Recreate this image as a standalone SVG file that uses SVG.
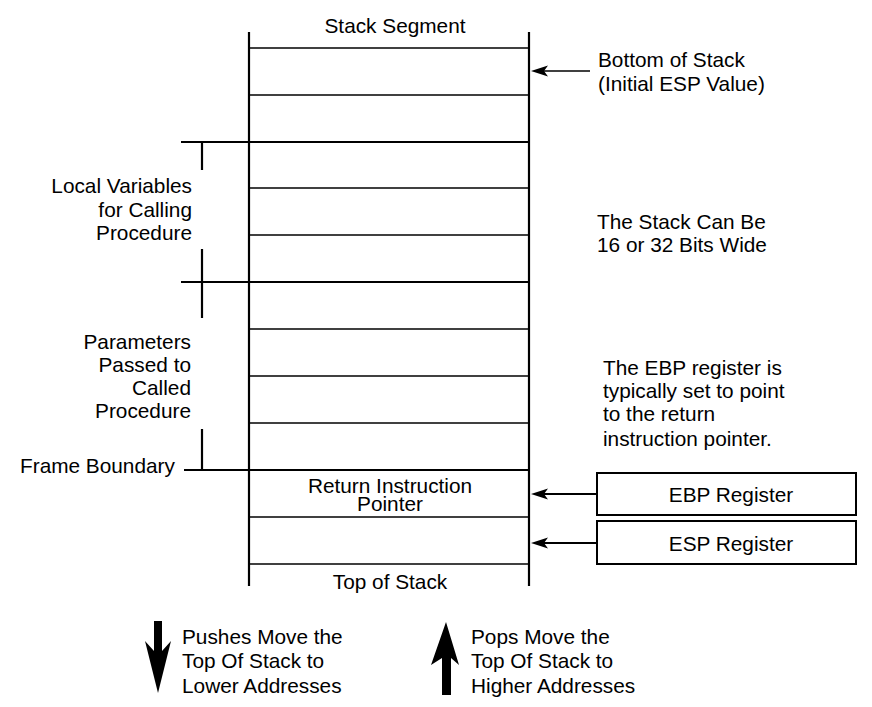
<svg xmlns="http://www.w3.org/2000/svg" width="872" height="707" viewBox="0 0 872 707">
<defs>
<style>
text{font-family:"Liberation Sans",Arial,sans-serif;font-size:20.8px;fill:#000}
.m{text-anchor:middle}.e{text-anchor:end}
.thin{stroke:#000;stroke-width:1.3;fill:none}
.thick{stroke:#000;stroke-width:2.2;fill:none}
.box{stroke:#000;stroke-width:2;fill:#fff}
</style>
</defs>
<rect width="872" height="707" fill="#fff"/>
<g id="stack">
<line class="thick" x1="249" y1="32" x2="249" y2="586"/>
<line class="thick" x1="529" y1="32" x2="529" y2="586"/>
<line class="thin" x1="249" y1="48" x2="529" y2="48"/>
<line class="thin" x1="249" y1="95" x2="529" y2="95"/>
<line class="thick" x1="181" y1="142" x2="529" y2="142"/>
<line class="thin" x1="249" y1="188" x2="529" y2="188"/>
<line class="thin" x1="249" y1="235" x2="529" y2="235"/>
<line class="thick" x1="181" y1="282" x2="529" y2="282"/>
<line class="thin" x1="249" y1="329" x2="529" y2="329"/>
<line class="thin" x1="249" y1="376" x2="529" y2="376"/>
<line class="thin" x1="249" y1="423" x2="529" y2="423"/>
<line class="thick" x1="184" y1="470" x2="529" y2="470"/>
<line class="thin" x1="249" y1="517" x2="529" y2="517"/>
<line class="thin" x1="249" y1="564" x2="529" y2="564"/>
<text class="m" x="395" y="33">Stack Segment</text>
<text class="m" x="390" y="493">Return Instruction<tspan x="390" y="511">Pointer</tspan></text>
<text class="m" x="390" y="589">Top of Stack</text>
</g>
<g id="brackets">
<line class="thick" x1="202" y1="142" x2="202" y2="170"/>
<line class="thick" x1="202" y1="249" x2="202" y2="318"/>
<line class="thick" x1="202" y1="429" x2="202" y2="470"/>
</g>
<g id="labels-left">
<text class="e" x="192" y="193">Local Variables</text>
<text class="e" x="192" y="217">for Calling</text>
<text class="e" x="192" y="240">Procedure</text>
<text class="e" x="191" y="349">Parameters</text>
<text class="e" x="191" y="372">Passed to</text>
<text class="e" x="191" y="395">Called</text>
<text class="e" x="191" y="418">Procedure</text>
<text x="20" y="473">Frame Boundary</text>
</g>
<g id="labels-right">
<text x="598" y="67">Bottom of Stack</text>
<text x="598" y="91">(Initial ESP Value)</text>
<text x="597" y="229">The Stack Can Be</text>
<text x="597" y="252">16 or 32 Bits Wide</text>
<text x="603" y="375">The EBP register is</text>
<text x="603" y="398">typically set to point</text>
<text x="603" y="421">to the return</text>
<text x="603" y="446">instruction pointer.</text>
</g>
<g id="ebp">
<rect class="box" x="597" y="473" width="259" height="42"/>
<text class="m" x="731" y="502">EBP Register</text>
</g>
<g id="esp">
<rect class="box" x="597" y="521" width="259" height="43"/>
<text class="m" x="731" y="551">ESP Register</text>
</g>
<g id="connectors">
<line stroke="#000" stroke-width="1.3" x1="590" y1="71" x2="544" y2="71"/>
<path d="M531,71 L548,65.5 L544,71 L548,76.5 Z" fill="#000"/>
<line stroke="#000" stroke-width="2" x1="596" y1="494" x2="544" y2="494"/>
<path d="M531,494 L548,488.5 L544,494 L548,499.5 Z" fill="#000"/>
<line stroke="#000" stroke-width="2" x1="596" y1="543" x2="544" y2="543"/>
<path d="M531,543 L548,537.5 L544,543 L548,548.5 Z" fill="#000"/>
</g>
<g id="push">
<path d="M154,621 H162 V651 L171,641 L158,693 L145,641 L154,651 Z" fill="#000"/>
<text x="182" y="644">Pushes Move the</text>
<text x="182" y="668">Top Of Stack to</text>
<text x="182" y="693">Lower Addresses</text>
</g>
<g id="pop">
<path d="M442,695 H451 V658 L459,665 L446,622 L431,665 L442,658 Z" fill="#000"/>
<text x="471" y="644">Pops Move the</text>
<text x="471" y="668">Top Of Stack to</text>
<text x="471" y="693">Higher Addresses</text>
</g>
</svg>
